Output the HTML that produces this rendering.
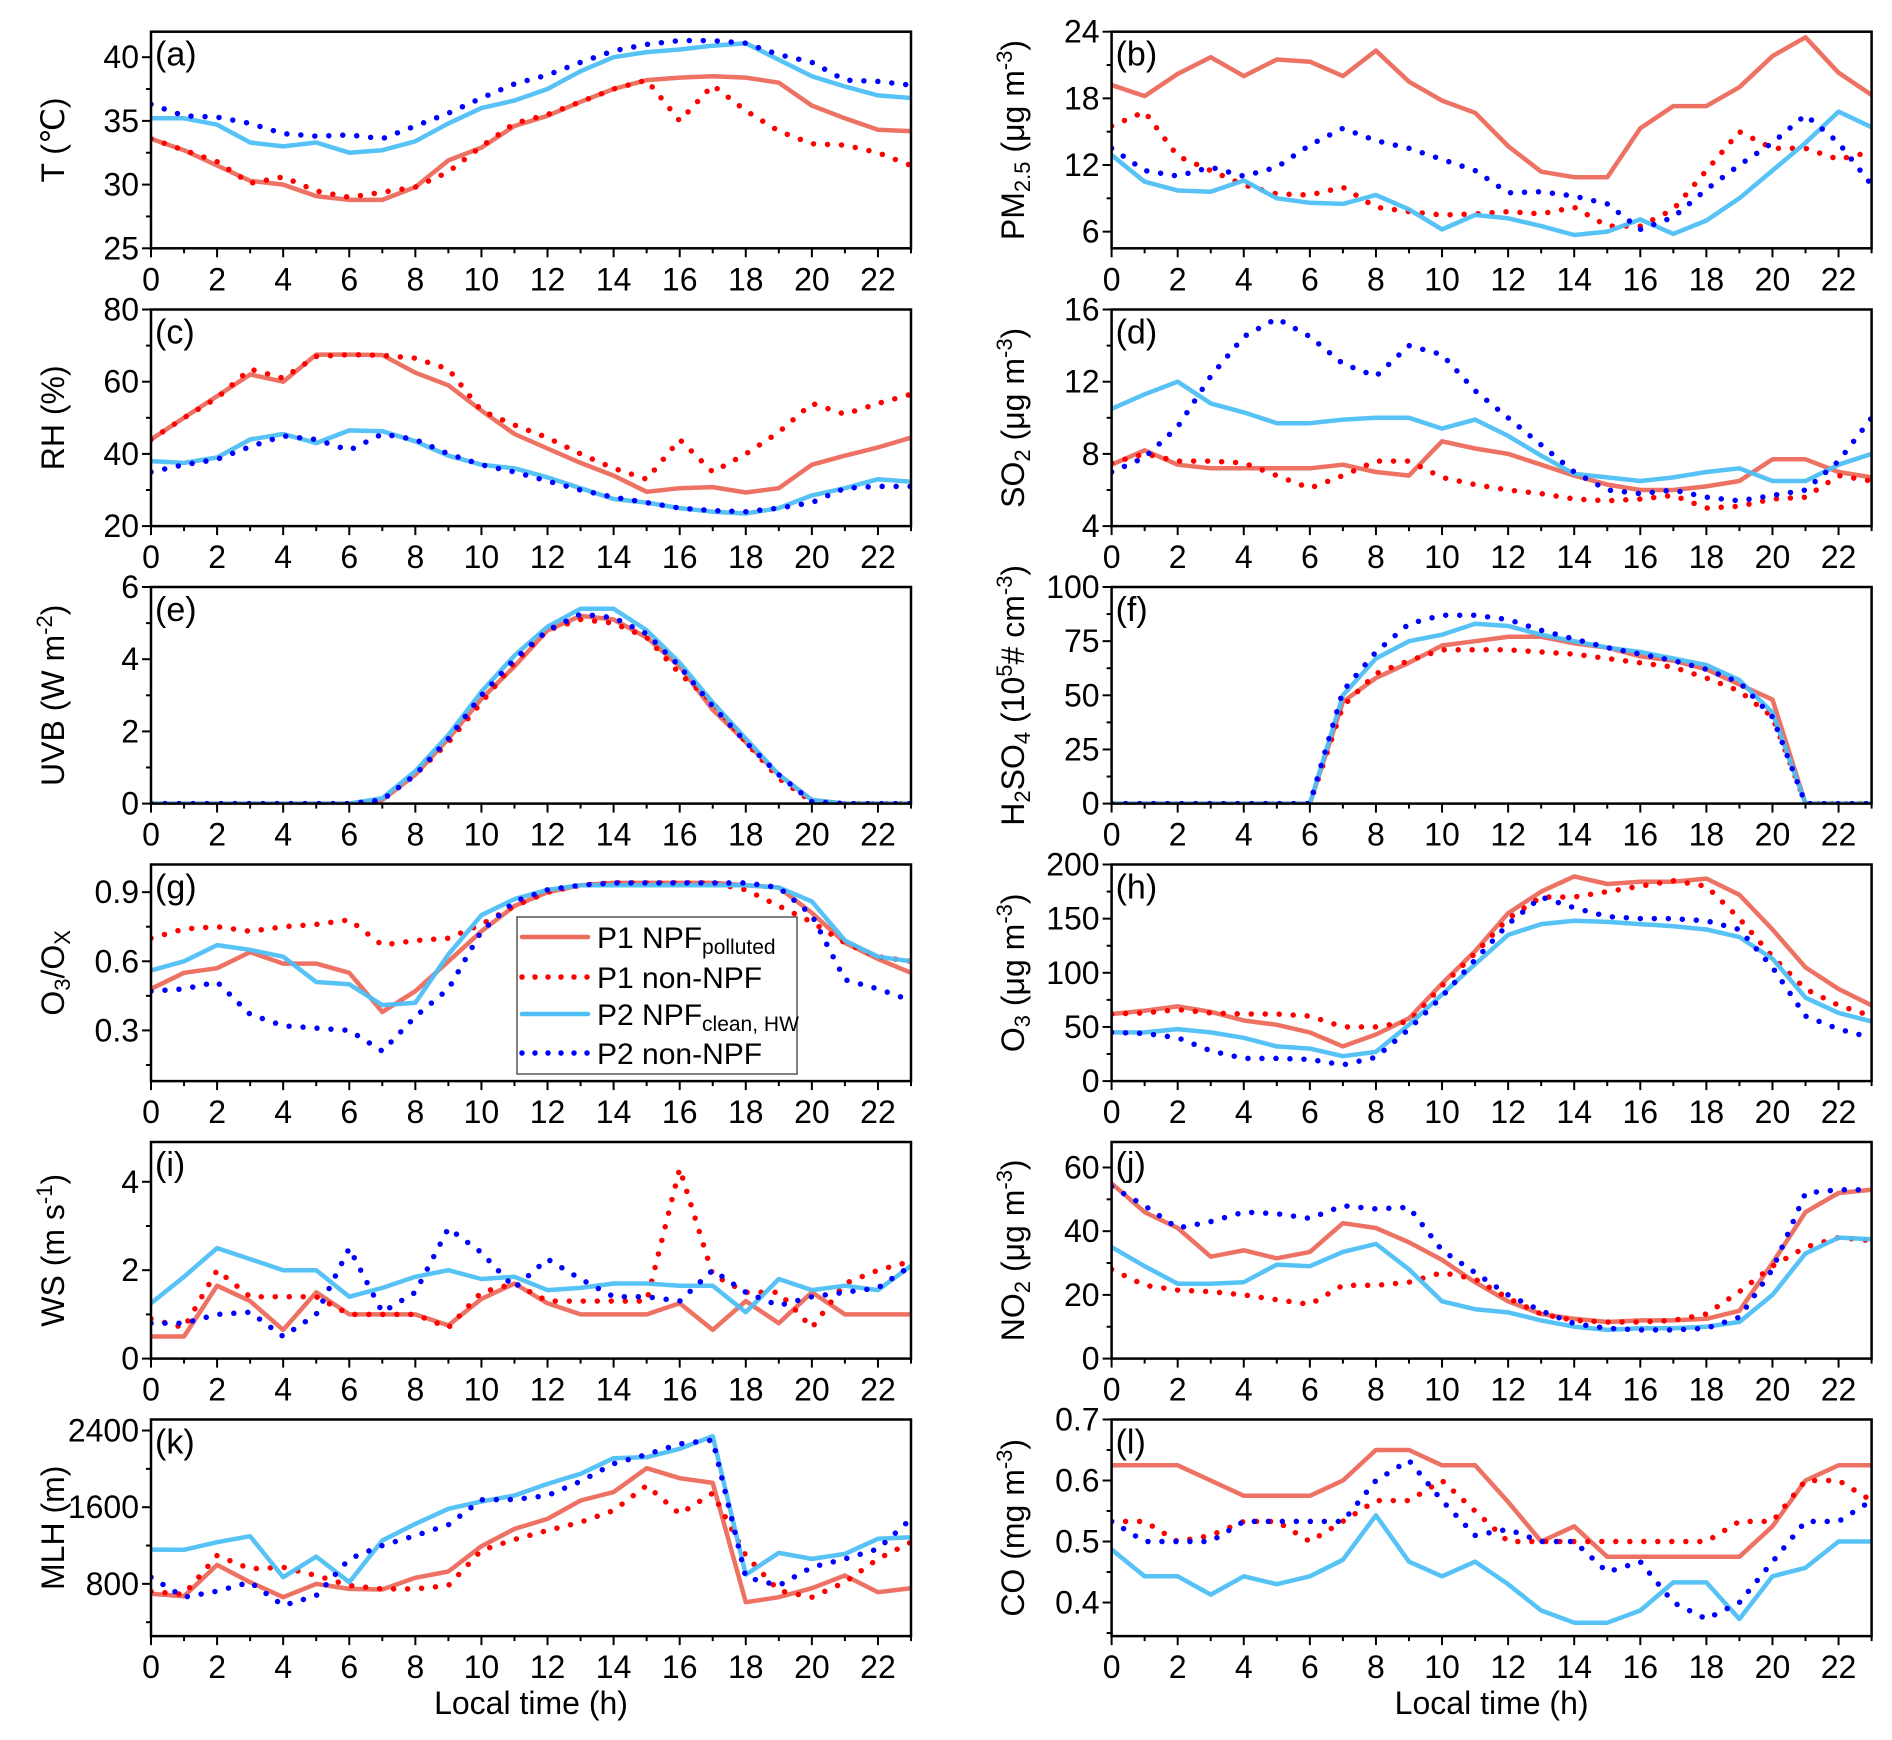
<!DOCTYPE html>
<html><head><meta charset="utf-8">
<style>
html,body{margin:0;padding:0;background:#fff;}
svg{display:block;font-family:"Liberation Sans",Arial,sans-serif;}
</style></head>
<body>
<svg id="chart" width="1892" height="1740" viewBox="0 0 1892 1740" xmlns="http://www.w3.org/2000/svg"></svg>
<script>
const hours = [0,1,2,3,4,5,6,7,8,9,10,11,12,13,14,15,16,17,18,19,20,21,22,23];
const xTicks = [0,2,4,6,8,10,12,14,16,18,20,22];
const seriesNames = ["P1 NPF polluted","P1 non-NPF","P2 NPF clean, HW","P2 non-NPF"];

// (a) T
const aP1  = [33.6,32.7,31.5,30.3,30.0,29.1,28.8,28.8,29.8,31.9,32.9,34.6,35.4,36.5,37.5,38.2,38.4,38.5,38.4,38.0,36.2,35.2,34.3,34.2];
const aP1n = [33.6,32.7,31.8,30.1,30.6,29.5,29.0,29.4,29.8,31.0,33.0,34.8,35.5,36.5,37.5,38.2,35.0,37.8,35.8,34.2,33.2,33.1,32.5,31.5];
const aP2  = [35.2,35.2,34.7,33.3,33.0,33.3,32.5,32.7,33.4,34.8,36.0,36.6,37.5,38.9,40.0,40.4,40.6,40.9,41.1,39.8,38.5,37.7,37.0,36.8];
const aP2n = [36.3,35.4,35.3,34.8,34.0,33.8,33.9,33.6,34.6,35.6,36.8,37.9,38.6,39.6,40.5,41.0,41.3,41.3,41.1,40.2,39.6,38.2,38.1,37.8];
// (b) PM2.5
const bP1  = [19.2,18.2,20.2,21.7,20.0,21.5,21.3,20.0,22.3,19.5,17.8,16.7,13.7,11.4,10.9,10.9,15.3,17.3,17.3,19.0,21.8,23.5,20.3,18.3];
const bP1n = [15.5,16.8,12.8,11.5,10.2,9.4,9.3,10.0,8.2,7.8,7.5,7.6,7.8,7.6,8.2,6.5,6.5,8.0,11.5,15.0,13.5,13.5,12.5,13.2];
const bP2  = [12.9,10.5,9.7,9.6,10.6,9.0,8.6,8.5,9.3,8.0,6.2,7.5,7.2,6.5,5.7,6.0,7.1,5.8,7.0,9.0,11.5,14.0,16.8,15.4];
const bP2n = [13.5,11.5,11.0,11.8,11.0,11.8,13.8,15.3,14.2,13.5,12.5,11.5,9.5,9.6,9.2,8.5,6.2,7.3,9.8,12.0,14.0,16.5,14.0,10.2];
// (c) RH
const cP1  = [44,50,56,62,60,67.5,67.5,67.4,62.5,59,52,45.5,41.5,37.5,34,29.5,30.5,30.8,29.3,30.5,37,39.5,41.8,44.5];
const cP1n = [44,50,55.5,63.5,61,67,67.5,67.3,66.5,63.5,52,48,44.5,40,36,33,44,35,40,46,54,51,54,56.5];
const cP2  = [38,37.5,39,44,45.5,43,46.5,46.3,43.5,39.5,37,36,33.5,30.5,27.5,26.5,25,24,23.5,25,28.5,30.5,33,32.3];
const cP2n = [35,37,38.5,42,45,44,41,45.5,44,40,37,35,32.5,30,28,26.5,25,24.3,24,25,26.5,30.5,31,31];
// (d) SO2
const dP1  = [7.4,8.2,7.4,7.2,7.2,7.2,7.2,7.4,7.0,6.8,8.7,8.3,8.0,7.4,6.8,6.3,6.0,6.0,6.2,6.5,7.7,7.7,7.0,6.7];
const dP1n = [7.5,8.0,7.6,7.6,7.5,6.8,6.1,6.8,7.6,7.6,6.7,6.3,6.0,5.8,5.5,5.4,5.5,5.7,5.0,5.1,5.5,5.6,6.8,6.5];
const dP2  = [10.5,11.3,12.0,10.8,10.3,9.7,9.7,9.9,10.0,10.0,9.4,9.9,9.0,7.9,6.9,6.7,6.5,6.7,7.0,7.2,6.5,6.5,7.4,8.0];
const dP2n = [7.0,7.8,9.5,12.3,14.5,15.5,14.5,13.0,12.3,14.0,13.5,11.5,10.0,8.5,7.0,6.0,5.8,6.0,5.6,5.4,5.7,6.0,7.6,10.0];
// (e) UVB
const eP1  = [0,0,0,0,0,0,0,0.1,0.8,1.8,2.9,3.8,4.8,5.2,5.1,4.6,3.8,2.6,1.7,0.8,0.1,0,0,0];
const eP1n = [0,0,0,0,0,0,0,0.1,0.8,1.7,2.8,3.9,4.8,5.1,5.0,4.6,3.6,2.8,1.7,0.7,0.05,0,0,0];
const eP2  = [0,0,0,0,0,0,0,0.15,0.9,1.9,3.1,4.1,4.9,5.4,5.4,4.8,3.9,2.8,1.8,0.8,0.1,0,0,0];
const eP2n = [0,0,0,0,0,0,0,0.1,0.8,1.8,3.0,4.0,4.8,5.25,5.15,4.7,3.8,2.7,1.7,0.8,0.05,0,0,0];
// (f) H2SO4
const fP1  = [0,0,0,0,0,0,0,47,58,65,73,75,77,77,74,72,68,66,62,55,48,0,0,0];
const fP1n = [0,0,0,0,0,0,0,45,60,66,71,71,71,70,69,67,65,63,58,52,40,0,0,0];
const fP2  = [0,0,0,0,0,0,0,50,67,75,78,83,82,78,75,72,70,67,64,57,42,0,0,0];
const fP2n = [0,0,0,0,0,0,0,52,70,83,87,87,85,80,76,72,69,66,62,56,40,0,0,0];
// (g) O3/Ox
const gP1  = [0.48,0.55,0.57,0.64,0.59,0.59,0.55,0.38,0.47,0.60,0.73,0.84,0.90,0.93,0.94,0.94,0.94,0.94,0.93,0.92,0.81,0.68,0.61,0.55];
const gP1n = [0.70,0.74,0.75,0.73,0.75,0.76,0.78,0.67,0.69,0.70,0.76,0.84,0.90,0.93,0.94,0.94,0.94,0.94,0.91,0.84,0.77,0.68,0.62,0.60];
const gP2  = [0.56,0.60,0.67,0.65,0.62,0.51,0.50,0.41,0.42,0.63,0.80,0.87,0.91,0.93,0.93,0.93,0.93,0.93,0.93,0.92,0.86,0.69,0.62,0.60];
const gP2n = [0.47,0.48,0.51,0.37,0.32,0.31,0.30,0.21,0.36,0.48,0.73,0.86,0.91,0.93,0.94,0.94,0.94,0.94,0.94,0.92,0.80,0.52,0.48,0.43];
// (h) O3
const hP1  = [62,65,69,64,56,52,45,32,43,58,90,120,155,175,189,182,184,184,187,172,140,105,85,70];
const hP1n = [62,63,66,63,62,62,60,50,50,55,88,118,150,170,170,175,180,185,180,150,115,85,70,60];
const hP2  = [45,45,48,45,40,32,30,23,27,52,80,108,135,145,148,147,145,143,140,133,113,77,63,55];
const hP2n = [45,44,40,28,21,21,20,15,22,48,78,112,145,170,160,152,150,150,148,140,105,60,48,40];
// (i) WS
const iP1  = [0.5,0.5,1.65,1.3,0.65,1.5,1.0,1.0,1.0,0.75,1.35,1.7,1.25,1.0,1.0,1.0,1.25,0.65,1.3,0.8,1.5,1.0,1.0,1.0];
const iP1n = [0.9,0.7,2.0,1.4,1.4,1.4,1.0,1.0,1.0,0.7,1.5,1.7,1.3,1.3,1.3,1.3,4.3,1.9,1.5,1.5,0.7,1.7,2.0,2.2];
const iP2  = [1.25,1.85,2.5,2.25,2.0,2.0,1.4,1.6,1.85,2.0,1.8,1.85,1.55,1.6,1.7,1.7,1.65,1.65,1.05,1.8,1.55,1.65,1.55,2.1];
const iP2n = [0.8,0.8,1.0,1.05,0.5,1.0,2.5,1.05,1.5,2.95,2.4,1.6,2.25,1.8,1.4,1.4,1.3,2.0,1.5,1.2,1.4,1.5,1.6,2.1];
// (j) NO2
const jP1  = [55,46,41,32,34,31.5,33.5,42.5,41,36.5,31,24,18,14,12.5,11.5,12,12,12.5,15,30,46,52,53];
const jP1n = [28,23,21.5,21,20,18.5,17,23,23,24,27,25,19,14,12,11.5,11.5,12,14,21,29,35,38,37];
const jP2  = [35,29,23.5,23.5,24,29.5,29,33.5,36,28,18,15.5,14.5,12,10,9,9.5,9.5,10,11.5,20,33,38,37.5];
const jP2n = [54,48,41,43,46,45.5,44,48,47,47.5,34,27,20,15,11,9.5,9,9,9.5,13,28,52,53,53];
// (k) MLH
const kP1  = [696,671,998,817,661,800,748,741,863,929,1193,1374,1478,1670,1757,2007,1903,1854,609,661,755,887,713,755];
const kP1n = [720,690,1096,957,974,887,783,748,748,783,1150,1263,1357,1443,1565,1826,1530,1746,1096,730,661,817,1061,1235];
const kP2  = [1158,1155,1235,1297,870,1085,817,1252,1426,1583,1659,1722,1843,1948,2111,2122,2209,2341,897,1123,1061,1113,1270,1287];
const kP2n = [870,661,723,817,574,678,1061,1200,1304,1416,1677,1680,1722,1870,2054,2150,2261,2300,870,783,974,1061,1165,1478];
// (l) CO
const lP1  = [0.625,0.625,0.625,0.6,0.575,0.575,0.575,0.6,0.65,0.65,0.625,0.625,0.565,0.5,0.525,0.475,0.475,0.475,0.475,0.475,0.525,0.6,0.625,0.625];
const lP1n = [0.533,0.533,0.5,0.51,0.533,0.533,0.5,0.533,0.567,0.567,0.6,0.55,0.5,0.5,0.5,0.5,0.5,0.5,0.5,0.533,0.533,0.6,0.6,0.567];
const lP2  = [0.487,0.443,0.443,0.413,0.443,0.43,0.443,0.47,0.543,0.467,0.443,0.467,0.43,0.387,0.367,0.367,0.387,0.433,0.433,0.373,0.443,0.457,0.5,0.5];
const lP2n = [0.533,0.5,0.5,0.5,0.533,0.533,0.533,0.533,0.6,0.633,0.567,0.51,0.52,0.5,0.5,0.45,0.467,0.4,0.373,0.4,0.467,0.533,0.533,0.567];

const yTicksA = [25,30,35,40];
const yTicksB = [6,12,18,24];
const yTicksC = [20,40,60,80];
const yTicksD = [4,8,12,16];
const yTicksE = [0,2,4,6];
const yTicksF = [0,25,50,75,100];
const yTicksG = [0.3,0.6,0.9];
const yTicksH = [0,50,100,150,200];
const yTicksI = [0,2,4];
const yTicksJ = [0,20,40,60];
const yTicksK = [800,1600,2400];
const yTicksL = [0.4,0.5,0.6,0.7];

const NS = "http://www.w3.org/2000/svg";
const svg = document.getElementById('chart');
function mk(tag, attrs, parent){
  const e = document.createElementNS(NS, tag);
  for (const k in attrs) e.setAttribute(k, attrs[k]);
  (parent||svg).appendChild(e);
  return e;
}
const COLORS = ["#ec6a5c","#ff0000","#4dbff5","#0000ff"];
const ROW_TOP = [31.7,309.5,587,864.5,1142,1419.5];
const PH = 216.6;
const COLX = [151,1111.6];
const PW = 760;

const panels = [
 {id:'a',col:0,row:0,min:25,max:42,ticks:yTicksA,minor:2.5,dec:0,data:[aP1,aP1n,aP2,aP2n],title:[['T (℃)']]},
 {id:'b',col:1,row:0,min:4.5,max:24,ticks:yTicksB,minor:3,dec:0,data:[bP1,bP1n,bP2,bP2n],title:[['PM'],['2.5','sub'],[' (μg m'],['-3','sup'],[')']]},
 {id:'c',col:0,row:1,min:20,max:80,ticks:yTicksC,minor:10,dec:0,data:[cP1,cP1n,cP2,cP2n],title:[['RH (%)']]},
 {id:'d',col:1,row:1,min:4,max:16,ticks:yTicksD,minor:2,dec:0,data:[dP1,dP1n,dP2,dP2n],title:[['SO'],['2','sub'],[' (μg m'],['-3','sup'],[')']]},
 {id:'e',col:0,row:2,min:0,max:6,ticks:yTicksE,minor:1,dec:0,data:[eP1,eP1n,eP2,eP2n],title:[['UVB (W m'],['-2','sup'],[')']]},
 {id:'f',col:1,row:2,min:0,max:100,ticks:yTicksF,minor:12.5,dec:0,data:[fP1,fP1n,fP2,fP2n],title:[['H'],['2','sub'],['SO'],['4','sub'],[' (10'],['5','sup'],['# cm'],['-3','sup'],[')']]},
 {id:'g',col:0,row:3,min:0.08,max:1.02,ticks:yTicksG,minor:0.15,dec:1,data:[gP1,gP1n,gP2,gP2n],title:[['O'],['3','sub'],['/O'],['X','sub']]},
 {id:'h',col:1,row:3,min:0,max:200,ticks:yTicksH,minor:25,dec:0,data:[hP1,hP1n,hP2,hP2n],title:[['O'],['3','sub'],[' (μg m'],['-3','sup'],[')']]},
 {id:'i',col:0,row:4,min:0,max:4.9,ticks:yTicksI,minor:1,dec:0,data:[iP1,iP1n,iP2,iP2n],title:[['WS (m s'],['-1','sup'],[')']]},
 {id:'j',col:1,row:4,min:0,max:68,ticks:yTicksJ,minor:10,dec:0,data:[jP1,jP1n,jP2,jP2n],title:[['NO'],['2','sub'],[' (μg m'],['-3','sup'],[')']]},
 {id:'k',col:0,row:5,min:255,max:2515,ticks:yTicksK,minor:400,dec:0,data:[kP1,kP1n,kP2,kP2n],title:[['MLH (m)']]},
 {id:'l',col:1,row:5,min:0.345,max:0.7,ticks:yTicksL,minor:0.05,dec:1,data:[lP1,lP1n,lP2,lP2n],title:[['CO  (mg m'],['-3','sup'],[')']]}
];

panels.forEach(p=>{
  const x0 = COLX[p.col], y0 = ROW_TOP[p.row];
  const xs = h => x0 + h/23*PW;
  const ys = v => y0 + PH - (v-p.min)/(p.max-p.min)*PH;
  const g = mk('g',{});
  
  
  const cp = mk('clipPath',{id:'clip-'+p.id},g);
  mk('rect',{x:x0,y:y0,width:PW,height:PH},cp);
  // series
  const sg = mk('g',{'clip-path':'url(#clip-'+p.id+')'},g);
  p.data.forEach((arr,si)=>{
    const d = arr.map((v,i)=>(i?'L':'M')+xs(hours[i]).toFixed(1)+','+ys(v).toFixed(1)).join(' ');
    const dotted = si%2===1;
    const path = mk('path',{d:d,fill:'none',stroke:COLORS[si],'stroke-width':dotted?5.5:4.5,'stroke-linejoin':'round','stroke-linecap':'round','stroke-dasharray':dotted?'0 14':'none',opacity:dotted?1:0.95},sg);
    
    
  });
  // frame
  const fr = mk('rect',{x:x0,y:y0,width:PW,height:PH,fill:'none',stroke:'#000','stroke-width':2.5},g);
  
  
  // x ticks
  hours.forEach(h=>{
    const major = h%2===0;
    mk('line',{x1:xs(h),x2:xs(h),y1:y0+PH,y2:y0+PH+(major?9:5),stroke:'#000','stroke-width':2},g);
  });
  xTicks.forEach(h=>{
    const t = mk('text',{x:xs(h),y:y0+PH+42,'font-size':32,'text-anchor':'middle',fill:'#000'},g);
    t.textContent = h;
    
    
  });
  // y ticks
  const start = Math.ceil((p.min-1e-9)/p.minor)*p.minor;
  for(let v=start; v<=p.max+1e-9; v+=p.minor){
    const isMajor = p.ticks.some(t=>Math.abs(t-v)<1e-6);
    mk('line',{x1:x0-(isMajor?9:5),x2:x0,y1:ys(v),y2:ys(v),stroke:'#000','stroke-width':2},g);
  }
  p.ticks.forEach(v=>{
    const t = mk('text',{x:x0-12,y:ys(v)+11,'font-size':32,'text-anchor':'end',fill:'#000'},g);
    t.textContent = v.toFixed(p.dec);
    
    
  });
  // panel label
  const lb = mk('text',{x:x0+4,y:y0+34,'font-size':34,fill:'#000'},g);
  lb.textContent = '('+p.id+')';
  
  
  // y title
  const tx = p.col===0 ? 64 : 1024;
  const yt = mk('text',{x:0,y:0,'font-size':32,'text-anchor':'middle',fill:'#000',transform:'translate('+tx+','+(y0+PH/2)+') rotate(-90)'},g);
  
  
  p.title.forEach(part=>{
    const ts = mk('tspan',{},yt);
    ts.textContent = part[0];
    if(part[1]==='sub'){ts.setAttribute('font-size','22');ts.setAttribute('baseline-shift','-25%');}
    if(part[1]==='sup'){ts.setAttribute('font-size','22');ts.setAttribute('baseline-shift','55%');}
  });
});

// x-axis titles
[0,1].forEach(c=>{
  const t = mk('text',{x:COLX[c]+PW/2,y:1714,'font-size':32,'text-anchor':'middle',fill:'#000'});
  t.textContent = 'Local time (h)';
  
  
});

// legend
const lg = mk('g',{});


mk('rect',{x:517,y:917,width:280,height:157,fill:'#fff',stroke:'#555','stroke-width':1.5},lg);
const legRows = [937,977,1014,1053];
const legLabels = [['P1 NPF','polluted'],['P1 non-NPF',''],['P2 NPF','clean, HW'],['P2 non-NPF','']];
legLabels.forEach((lab,i)=>{
  const y = legRows[i];
  const ln = mk('line',{x1:522,x2:588,y1:y,y2:y,stroke:COLORS[i],'stroke-width':i%2?5.5:4.5,'stroke-linecap':'round','stroke-dasharray':i%2?'0 13':'none'},lg);
  
  
  const t = mk('text',{x:597,y:y+11,'font-size':30,fill:'#000'},lg);
  
  
  const a = mk('tspan',{},t); a.textContent = lab[0];
  if(lab[1]){const b = mk('tspan',{'font-size':21,'baseline-shift':'-30%'},t); b.textContent = lab[1];}
});
</script>
</body></html>
